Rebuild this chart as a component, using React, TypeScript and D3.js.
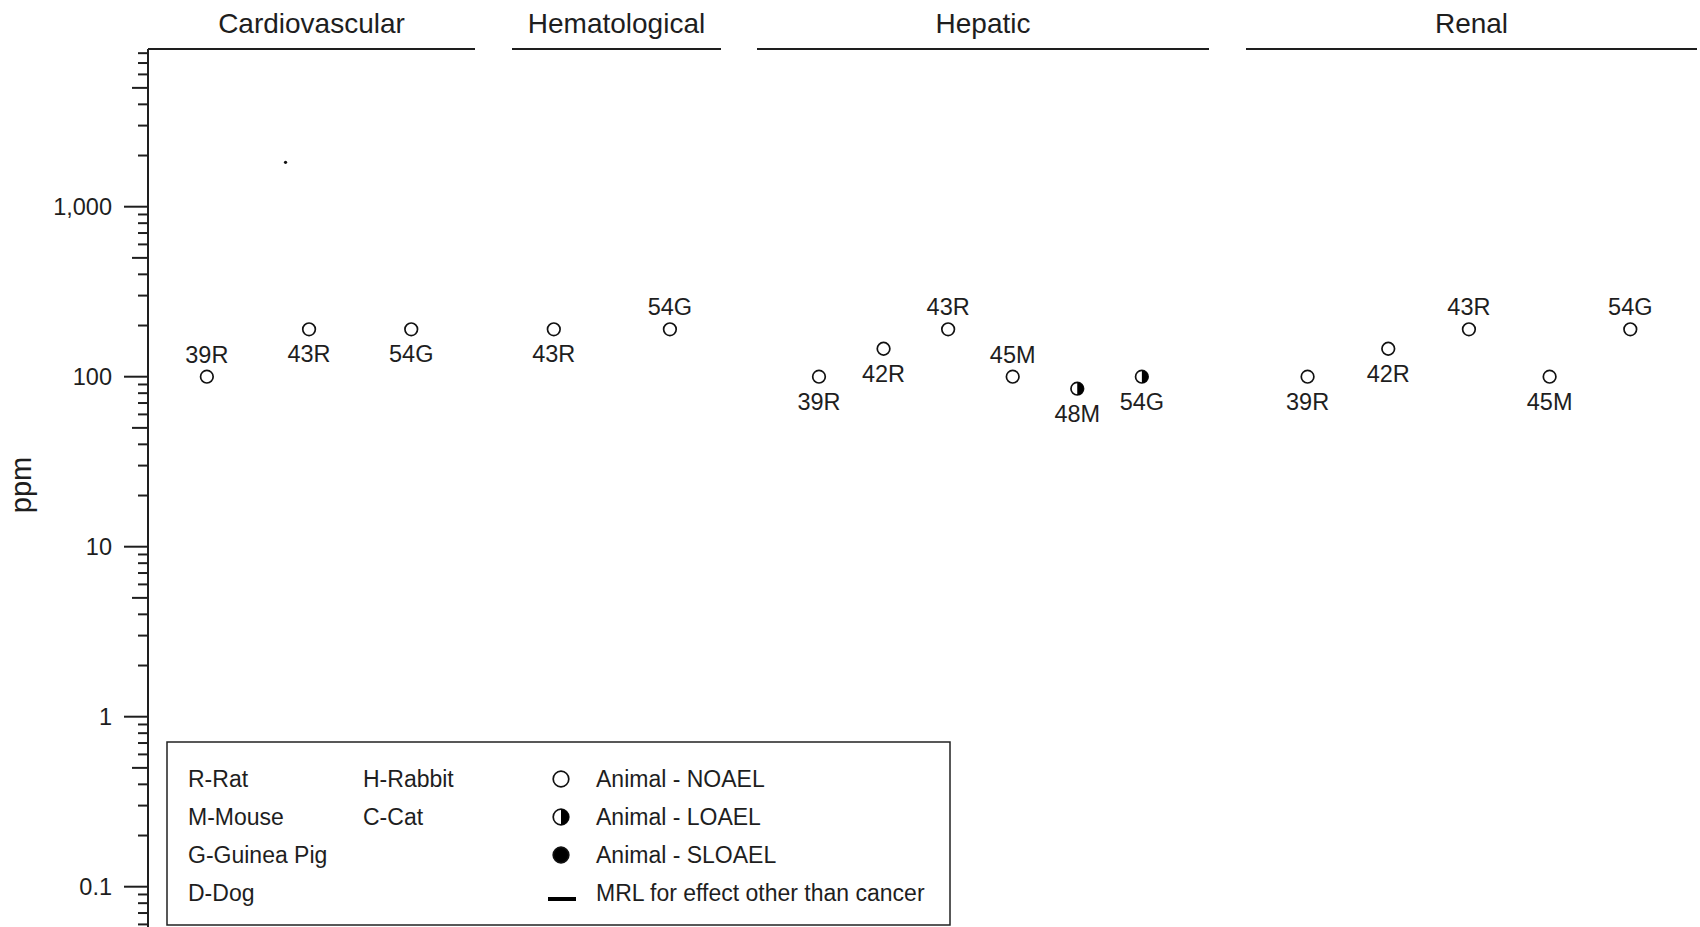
import * as d3 from "d3"
import { useEffect, useRef } from "react"
import React = require("react")

// panels along the top, left to right
const categories = ["Cardiovascular", "Hematological", "Hepatic", "Renal"]

// each point: study label, dose in ppm, effect level, where its label sits
const cardiovascular = [
    { label: "39R", ppm: 100, effect: "NOAEL", side: "above" },
    { label: "43R", ppm: 190, effect: "NOAEL", side: "below" },
    { label: "54G", ppm: 190, effect: "NOAEL", side: "below" },
]
const hematological = [
    { label: "43R", ppm: 190, effect: "NOAEL", side: "below" },
    { label: "54G", ppm: 190, effect: "NOAEL", side: "above" },
]
const hepatic = [
    { label: "39R", ppm: 100, effect: "NOAEL", side: "below" },
    { label: "42R", ppm: 146, effect: "NOAEL", side: "below" },
    { label: "43R", ppm: 190, effect: "NOAEL", side: "above" },
    { label: "45M", ppm: 100, effect: "NOAEL", side: "above" },
    { label: "48M", ppm: 85, effect: "LOAEL", side: "below" },
    { label: "54G", ppm: 100, effect: "LOAEL", side: "below" },
]
const renal = [
    { label: "39R", ppm: 100, effect: "NOAEL", side: "below" },
    { label: "42R", ppm: 146, effect: "NOAEL", side: "below" },
    { label: "43R", ppm: 190, effect: "NOAEL", side: "above" },
    { label: "45M", ppm: 100, effect: "NOAEL", side: "below" },
    { label: "54G", ppm: 190, effect: "NOAEL", side: "above" },
]
const panelPoints = [cardiovascular, hematological, hepatic, renal]

// the little stray dot in the cardiovascular panel (index position between studies)
const strayDots = [{ panel: 0, slot: 0.77, ppm: 1825 }]

const yTickValues = [0.1, 1, 10, 100, 1000]
const yTickLabels = ["0.1", "1", "10", "100", "1,000"]

const speciesCol1 = ["R-Rat", "M-Mouse", "G-Guinea Pig", "D-Dog"]
const speciesCol2 = ["H-Rabbit", "C-Cat"]
const legendKeys = ["NOAEL", "LOAEL", "SLOAEL", "MRL"]
const legendTexts = ["Animal - NOAEL", "Animal - LOAEL", "Animal - SLOAEL", "MRL for effect other than cancer"]

// layout of each panel's header line
const panelLayout = [
    { x0: 148, x1: 475, padding: 0.6, align: 0.48 },
    { x0: 512, x1: 721, padding: 0.4, align: 0.45 },
    { x0: 757, x1: 1209, padding: 1.0, align: 0.48 },
    { x0: 1246, x1: 1697, padding: 0.795, align: 0.48 },
]

const FONT = "'Liberation Sans', Arial, Helvetica, sans-serif"
const INK = "#1e1e1e"

const Chart = () => {
    const svgRef = useRef()

    useEffect(() => {
        const width = 1700
        const height = 927
        const axisX = 148
        const headerY = 49

        const svg = d3.select(svgRef.current)
            .attr("width", width)
            .attr("height", height)
            .style("background", "#fff")
            .style("position", "absolute")
            .style("left", "0px")
            .style("top", "0px")
            .style("font-family", FONT)

        svg.selectAll("*").remove()

        const y = d3.scaleLog().domain([0.1, 1000]).range([886.7, 206.7])

        // y axis line
        svg.append("line")
            .attr("x1", axisX).attr("x2", axisX)
            .attr("y1", headerY).attr("y2", height + 5)
            .attr("stroke", INK).attr("stroke-width", 2)

        // log ticks
        const ticks = []
        for (let e = -2; e <= 3; e++) {
            for (let k = 1; k <= 9; k++) {
                const v = k * Math.pow(10, e)
                if (v >= 0.055 && v <= 8200) ticks.push({ v, k })
            }
        }
        svg.append("g")
            .selectAll("line")
            .data(ticks)
            .join("line")
            .attr("x1", (d) => axisX - (d.k === 1 ? 24 : d.k === 5 ? 16 : 10))
            .attr("x2", axisX)
            .attr("y1", (d) => y(d.v))
            .attr("y2", (d) => y(d.v))
            .attr("stroke", INK)
            .attr("stroke-width", 2)

        svg.append("g")
            .selectAll("text")
            .data(yTickValues)
            .join("text")
            .attr("x", 112)
            .attr("y", (d) => y(d))
            .attr("dy", "0.36em")
            .attr("text-anchor", "end")
            .attr("font-size", 23.5)
            .attr("fill", INK)
            .text((d, i) => yTickLabels[i])

        svg.append("text")
            .attr("transform", "translate(31,485) rotate(-90)")
            .attr("text-anchor", "middle")
            .attr("font-size", 29)
            .attr("fill", INK)
            .text("ppm")

        const halfPath = (cx, cy, r) => `M${cx},${cy - r}A${r},${r} 0 0 1 ${cx},${cy + r}Z`

        const drawMarker = (g, effect, cx, cy, r) => {
            if (effect === "MRL") {
                g.append("line")
                    .attr("x1", cx - 13).attr("x2", cx + 15)
                    .attr("y1", cy).attr("y2", cy)
                    .attr("stroke", "#000").attr("stroke-width", 4)
                return
            }
            g.append("circle")
                .attr("cx", cx).attr("cy", cy).attr("r", r)
                .attr("fill", effect === "SLOAEL" ? "#000" : "#fff")
                .attr("stroke", "#111").attr("stroke-width", 1.7)
            if (effect === "LOAEL") {
                g.append("path").attr("d", halfPath(cx, cy, r)).attr("fill", "#000")
            }
        }

        // panels
        categories.forEach((cat, pi) => {
            const lay = panelLayout[pi]
            const pts = panelPoints[pi]
            const x = d3.scalePoint()
                .domain(pts.map((d, i) => String(i)))
                .range([lay.x0, lay.x1])
                .padding(lay.padding)
                .align(lay.align)

            svg.append("line")
                .attr("x1", lay.x0).attr("x2", lay.x1)
                .attr("y1", headerY).attr("y2", headerY)
                .attr("stroke", INK).attr("stroke-width", 2)

            svg.append("text")
                .attr("x", (lay.x0 + lay.x1) / 2)
                .attr("y", 33)
                .attr("text-anchor", "middle")
                .attr("font-size", 28)
                .attr("fill", INK)
                .text(cat)

            const g = svg.append("g")
            pts.forEach((d, i) => {
                const cx = x(String(i))
                const cy = y(d.ppm)
                drawMarker(g, d.effect, cx, cy, 6.3)
                g.append("text")
                    .attr("x", cx)
                    .attr("y", d.side === "above" ? cy - 14 : cy + 33)
                    .attr("text-anchor", "middle")
                    .attr("font-size", 23.5)
                    .attr("fill", INK)
                    .text(d.label)
            })

            strayDots.filter((s) => s.panel === pi).forEach((s) => {
                const slotX = d3.scaleLinear()
                    .domain([0, 1])
                    .range([x("0"), x("1")])
                g.append("circle")
                    .attr("cx", slotX(s.slot))
                    .attr("cy", y(s.ppm))
                    .attr("r", 1.6)
                    .attr("fill", "#111")
            })
        })

        // legend
        const lg = svg.append("g")
        lg.append("rect")
            .attr("x", 167).attr("y", 742)
            .attr("width", 783).attr("height", 183)
            .attr("fill", "#fff")
            .attr("stroke", "#222").attr("stroke-width", 1.5)

        const rowY = (i) => 787 + i * 38
        speciesCol1.forEach((s, i) => {
            lg.append("text").attr("x", 188).attr("y", rowY(i))
                .attr("font-size", 23).attr("fill", INK).text(s)
        })
        speciesCol2.forEach((s, i) => {
            lg.append("text").attr("x", 363).attr("y", rowY(i))
                .attr("font-size", 23).attr("fill", INK).text(s)
        })
        legendKeys.forEach((k, i) => {
            drawMarker(lg, k, 561, rowY(i) - 8 + (k === "MRL" ? 6 : 0), 7.8)
            lg.append("text").attr("x", 596).attr("y", rowY(i))
                .attr("font-size", 23).attr("fill", INK).text(legendTexts[i])
        })
    }, [])

    return <svg ref={svgRef}></svg>
}

export default function App() {
    return <Chart />
}
